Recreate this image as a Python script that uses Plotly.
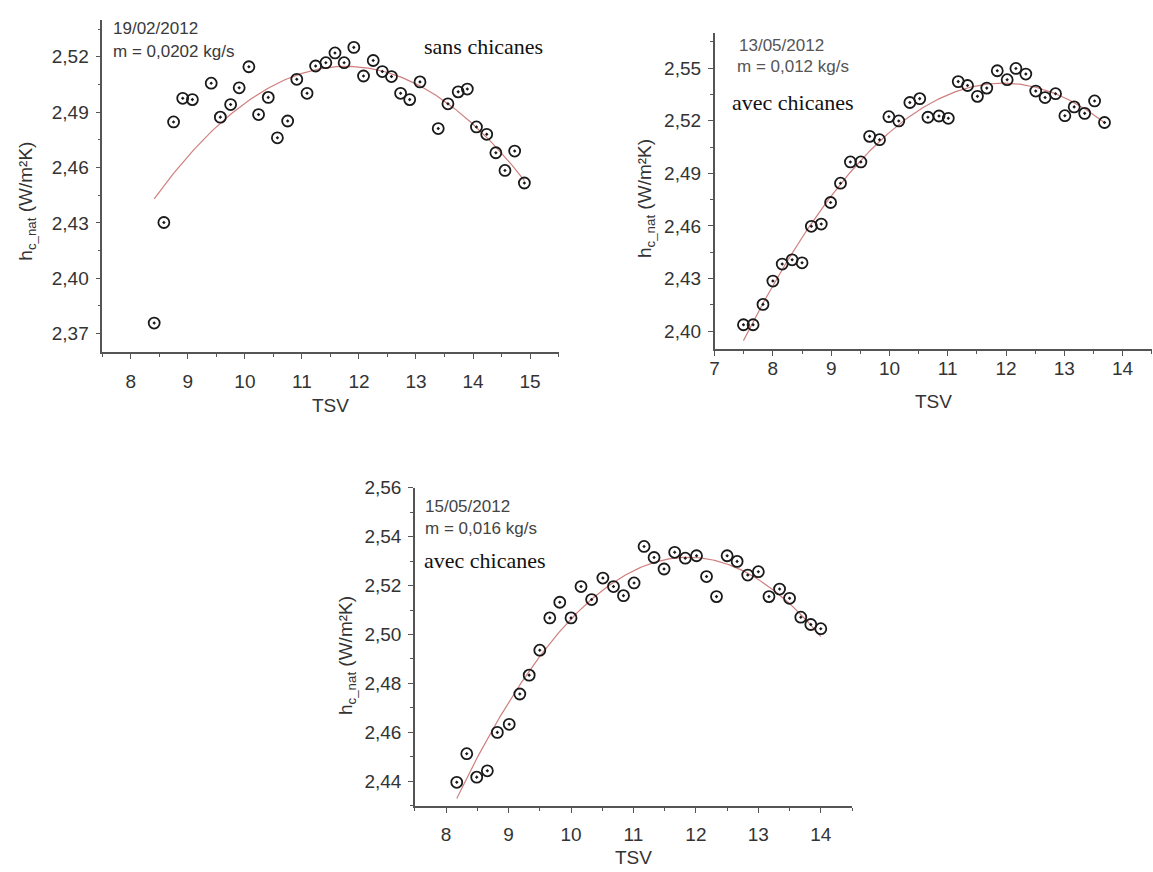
import numpy as np
import plotly.graph_objects as go

W, H = 1153, 872

# ---------------- data ----------------
p1_tsv = [8.41, 8.58, 8.75, 8.91, 9.08, 9.41, 9.57, 9.75, 9.90, 10.07, 10.24, 10.41, 10.57,
          10.75, 10.91, 11.09, 11.24, 11.42, 11.58, 11.74, 11.91, 12.08, 12.25, 12.41, 12.57,
          12.73, 12.89, 13.07, 13.39, 13.56, 13.74, 13.90, 14.06, 14.24, 14.40, 14.56, 14.73, 14.90]
p1_h = [2.3757, 2.4302, 2.4847, 2.4975, 2.4968, 2.5057, 2.4873, 2.4941, 2.5032, 2.5146, 2.4887,
        2.4980, 2.4761, 2.4852, 2.5078, 2.5002, 2.5150, 2.5168, 2.5221, 2.5168, 2.5251, 2.5096,
        2.5180, 2.5120, 2.5093, 2.5002, 2.4968, 2.5064, 2.4811, 2.4945, 2.5010, 2.5025, 2.4820,
        2.4780, 2.4680, 2.4584, 2.4689, 2.4516]

p2_tsv = [7.495, 7.66, 7.83, 8.00, 8.16, 8.33, 8.50, 8.66, 8.83, 8.99, 9.16, 9.33, 9.51, 9.66,
          9.83, 9.99, 10.16, 10.35, 10.52, 10.66, 10.85, 11.01, 11.18, 11.34, 11.51, 11.67,
          11.85, 12.02, 12.17, 12.34, 12.51, 12.67, 12.85, 13.01, 13.17, 13.35, 13.52, 13.69]
p2_h = [2.4037, 2.4037, 2.4153, 2.4286, 2.4383, 2.4407, 2.4390, 2.4598, 2.4611, 2.4734, 2.4844,
        2.4965, 2.4965, 2.5111, 2.5092, 2.5223, 2.5199, 2.5304, 2.5326, 2.5220, 2.5227, 2.5214,
        2.5423, 2.5401, 2.5339, 2.5386, 2.5485, 2.5434, 2.5498, 2.5466, 2.5369, 2.5332, 2.5354,
        2.5229, 2.5279, 2.5242, 2.5313, 2.5190]

p3_tsv = [8.17, 8.33, 8.49, 8.66, 8.82, 9.01, 9.18, 9.33, 9.50, 9.66, 9.82, 10.00, 10.16, 10.33,
          10.51, 10.68, 10.84, 11.01, 11.17, 11.33, 11.49, 11.66, 11.83, 12.01, 12.17, 12.33,
          12.50, 12.66, 12.83, 13.00, 13.17, 13.34, 13.50, 13.68, 13.84, 14.00]
p3_h = [2.4396, 2.4513, 2.4417, 2.4443, 2.4600, 2.4633, 2.4757, 2.4834, 2.4936, 2.5068, 2.5132,
        2.5068, 2.5196, 2.5143, 2.5231, 2.5196, 2.5159, 2.5211, 2.5360, 2.5315, 2.5268, 2.5336,
        2.5312, 2.5322, 2.5237, 2.5155, 2.5322, 2.5299, 2.5243, 2.5257, 2.5155, 2.5186, 2.5148,
        2.5071, 2.5041, 2.5024]

dates = ["19/02/2012", "13/05/2012", "15/05/2012"]
flows = ["m = 0,0202 kg/s", "m = 0,012 kg/s", "m = 0,016 kg/s"]
configs = ["sans chicanes", "avec chicanes", "avec chicanes"]
x_title = "TSV"
y_title = "h<sub>c_nat</sub> (W/m²K)"

# ---------------- styling ----------------
SANS = "Liberation Sans, Arial, sans-serif"
SERIF = "Liberation Serif, Times New Roman, serif"
AX = "#555555"
TXT = "#333333"


def fx(p):
    return p / W


def fy(p):
    return 1 - p / H


fig = go.Figure()

panels = [
    dict(x=p1_tsv, y=p1_h, xa="x", ya="y"),
    dict(x=p2_tsv, y=p2_h, xa="x2", ya="y2"),
    dict(x=p3_tsv, y=p3_h, xa="x3", ya="y3"),
]

for p in panels:
    xs = np.array(p["x"])
    ys = np.array(p["y"])
    c = np.polyfit(xs, ys, 2)
    xf = np.linspace(xs.min(), xs.max(), 200)
    fig.add_trace(go.Scatter(x=xf, y=np.polyval(c, xf), mode="lines",
                             line=dict(color="rgba(205,120,120,0.95)", width=1.2),
                             xaxis=p["xa"], yaxis=p["ya"], showlegend=False, hoverinfo="skip"))
    fig.add_trace(go.Scatter(x=xs, y=ys, mode="markers",
                             marker=dict(symbol="circle-open-dot", size=11,
                                         color="#1a1a1a", line=dict(width=1.8, color="#1a1a1a")),
                             xaxis=p["xa"], yaxis=p["ya"], showlegend=False))


def xaxis(domain, rng, tick0, anchor, standoff):
    return dict(domain=domain, range=rng, anchor=anchor, tick0=tick0, dtick=1,
                showline=True, linecolor=AX, linewidth=1.5, ticks="outside", ticklen=5,
                tickwidth=1.3, tickcolor=AX, showgrid=False, zeroline=False,
                tickfont=dict(family=SANS, size=19, color=TXT), ticklabelstandoff=standoff,
                minor=dict(dtick=0.5, tick0=tick0, ticks="outside", ticklen=3,
                           tickwidth=1.1, tickcolor=AX, showgrid=False))


def yaxis(domain, rng, tick0, dtick, anchor):
    return dict(domain=domain, range=rng, anchor=anchor, tick0=tick0, dtick=dtick,
                tickformat=".2f",
                showline=True, linecolor=AX, linewidth=1.5, ticks="outside", ticklen=5,
                tickwidth=1.3, tickcolor=AX, showgrid=False, zeroline=False,
                tickfont=dict(family=SANS, size=19, color=TXT), ticklabelstandoff=3,
                minor=dict(dtick=dtick / 2, tick0=tick0, ticks="outside", ticklen=3,
                           tickwidth=1.1, tickcolor=AX, showgrid=False))


# plot-area boxes in pixels (left, top, right, bottom)
b1 = (97.7, 10, 556, 346)
b2 = (712.7, 23.3, 1151.7, 342.7)
b3 = (411.7, 483.3, 850.7, 805)

fig.update_layout(
    width=W, height=H, autosize=False,
    margin=dict(l=0, r=0, t=0, b=0),
    paper_bgcolor="white", plot_bgcolor="white",
    separators=", ",
    xaxis=xaxis([fx(b1[0]), fx(b1[2])], [7.5, 15.5], 8, "y", 6),
    yaxis=yaxis([fy(b1[3]), fy(b1[1])], [2.36, 2.54], 2.37, 0.03, "x"),
    xaxis2=xaxis([fx(b2[0]), fx(b2[2])], [7, 14.5], 7, "y2", -3),
    yaxis2=yaxis([fy(b2[3]), fy(b2[1])], [2.39, 2.57], 2.40, 0.03, "x2"),
    xaxis3=xaxis([fx(b3[0]), fx(b3[2])], [7.5, 14.5], 8, "y3", 6),
    yaxis3=yaxis([fy(b3[3]), fy(b3[1])], [2.43, 2.56], 2.44, 0.02, "x3"),
)

ann = []


def text(x, y, s, font, size, color, xanchor="left", angle=0):
    ann.append(dict(x=fx(x), y=fy(y), xref="paper", yref="paper", text=s, showarrow=False,
                    xanchor=xanchor, yanchor="middle", textangle=angle,
                    font=dict(family=font, size=size, color=color)))


# panel annotations
text(106, 18.3, dates[0], SANS, 17, "#3a3a3a")
text(106, 41.7, flows[0], SANS, 17, "#3a3a3a")
text(419, 36.7, configs[0], SERIF, 22, "#111111")

text(735, 36, dates[1], SANS, 17, "#555555")
text(733, 57.3, flows[1], SANS, 17, "#555555")
text(728, 94, configs[1], SERIF, 22, "#111111")

text(420, 502.3, dates[2], SANS, 17, "#444444")
text(420, 525, flows[2], SANS, 17, "#444444")
text(419, 556.7, configs[2], SERIF, 22, "#111111")

# axis titles
text((b1[0] + b1[2]) / 2, 400, x_title, SANS, 19, TXT, "center")
text((b2[0] + b2[2]) / 2, 396, x_title, SANS, 19, TXT, "center")
text((b3[0] + b3[2]) / 2, 857, x_title, SANS, 19, TXT, "center")

text(22, 193, y_title, SANS, 19, TXT, "center", -90)
text(644, 191, y_title, SANS, 19, TXT, "center", -90)
text(343, 653, y_title, SANS, 19, TXT, "center", -90)

fig.update_layout(annotations=ann)

fig.write_html("out.html", config={"displayModeBar": False},
               post_script="document.body.style.margin='0';document.body.style.overflow='hidden';")
